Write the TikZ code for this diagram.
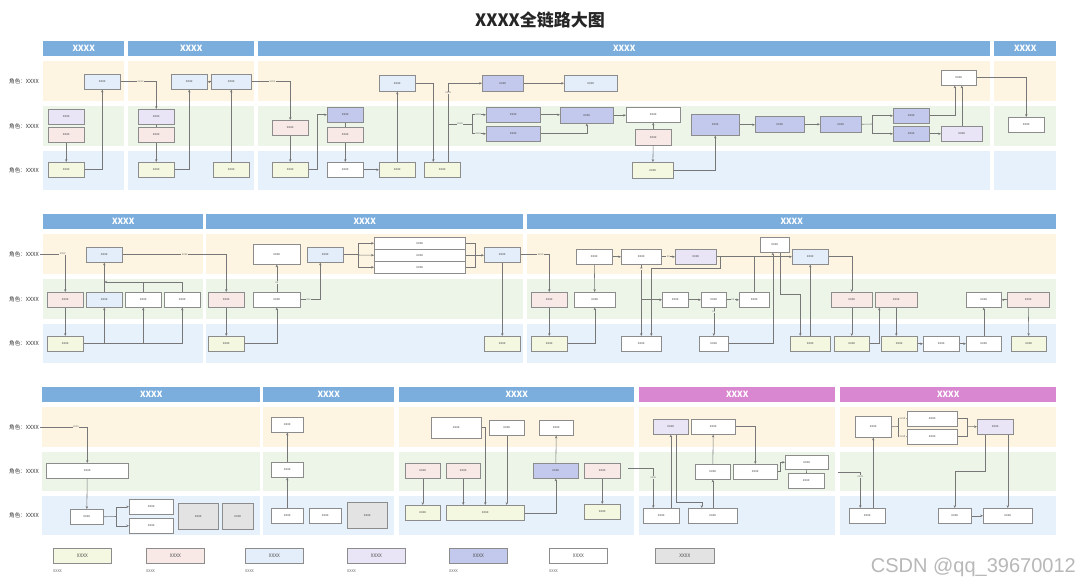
\documentclass[tikz,border=0pt]{standalone}
\usepackage{fontspec}
\setmainfont{Liberation Sans}
\newfontfamily\cjk{Noto Sans CJK SC}
\usetikzlibrary{arrows.meta}
\definecolor{hdrblue}{HTML}{7BAEDD}
\definecolor{hdrpink}{HTML}{D987D0}
\definecolor{laneY}{HTML}{FDF5E2}
\definecolor{laneG}{HTML}{EDF5E8}
\definecolor{laneB}{HTML}{E7F1FB}
\definecolor{fillY}{HTML}{F5F8E1}
\definecolor{fillP}{HTML}{F8E9E7}
\definecolor{fillB}{HTML}{E4EEFA}
\definecolor{fillL}{HTML}{EAE5F6}
\definecolor{fillI}{HTML}{C3C9EC}
\definecolor{fillG}{HTML}{E3E3E3}
\definecolor{boxline}{HTML}{8C8C8C}
\definecolor{wirec}{HTML}{777777}

\begin{document}
\begin{tikzpicture}[x=1pt, y=-1pt,
    box/.style={draw=boxline, line width=0.55pt, minimum width=36, minimum height=15,
        inner sep=0pt, anchor=north west, text=black!70, font=\cjk\fontsize{3.4}{4}\selectfont},
    yelbox/.style={box, fill=fillY},
    pinkbox/.style={box, fill=fillP},
    bluebox/.style={box, fill=fillB},
    lilacbox/.style={box, fill=fillL},
    indigobox/.style={box, fill=fillI},
    whitebox/.style={box, fill=white},
    greybox/.style={box, fill=fillG},
    hdr/.style={fill=hdrblue, text=white, minimum height=15, inner sep=0pt,
        anchor=north west, font=\cjk\bfseries\fontsize{8.5}{9}\selectfont},
    role/.style={anchor=east, inner sep=1pt, text=black!80, font=\cjk\fontsize{5.6}{6}\selectfont},
    wire/.style={draw=wirec, line width=0.55pt},
    ln/.style={wire, -{Stealth[length=2.8pt, width=2.4pt]}},
    lbl/.style={fill=laneY, inner sep=0.4pt, text=black!55, font=\cjk\fontsize{2.9}{3}\selectfont},
]
\useasboundingbox (0,0) rectangle (1080,585);
\fill[white] (0,0) rectangle (1080,585);

\node[text=black!85, font=\cjk\bfseries\fontsize{17}{20}\selectfont] (title) at (540,20) {XXXX全链路大图};

% first row
\foreach \xa/\xb in {43/124,128/254,258/990,994/1056} {
    \fill[laneY] (\xa,61) rectangle (\xb,101);
    \fill[laneG] (\xa,106) rectangle (\xb,146);
    \fill[laneB] (\xa,151) rectangle (\xb,190);
}
\node[hdr, minimum width=81] (h1a) at (43,41) {XXXX};
\node[hdr, minimum width=126] (h1b) at (128,41) {XXXX};
\node[hdr, minimum width=732] (h1c) at (258,41) {XXXX};
\node[hdr, minimum width=62] (h1d) at (994,41) {XXXX};
\foreach \y/\n in {81/a,126/b,170.5/c}
    \node[role] (r1\n) at (40,\y) {角色：XXXX};

\node[bluebox] (s1a) at (84,74) {xxxx};
\node[lilacbox] (s1b) at (48,109) {xxxx};
\node[pinkbox] (s1c) at (48,127) {xxxx};
\node[yelbox] (s1d) at (48,162) {xxxx};
\node[lilacbox] (s2a) at (138,109) {xxxx};
\node[pinkbox] (s2b) at (138,127) {xxxx};
\node[yelbox] (s2c) at (138,162) {xxxx};
\node[bluebox] (s2d) at (171,74) {xxxx};
\node[bluebox, minimum width=40] (s2e) at (211,74) {xxxx};
\node[yelbox] (s2f) at (213,162) {xxxx};
\node[pinkbox] (s3a) at (272,120) {xxxx};
\node[yelbox] (s3b) at (272,162) {xxxx};
\node[indigobox] (s3c) at (327,107) {xxxx};
\node[pinkbox] (s3d) at (327,127) {xxxx};
\node[whitebox] (s3e) at (327,162) {xxxx};
\node[yelbox] (s3f) at (379,162) {xxxx};
\node[bluebox, minimum height=16] (s3g) at (379,75) {xxxx};
\node[yelbox] (s3h) at (424,162) {xxxx};
\node[indigobox, minimum width=41, minimum height=16] (s3i) at (482,75) {xxxx};
\node[indigobox, minimum width=54] (s3j) at (486,107) {xxxx};
\node[indigobox, minimum width=54] (s3k) at (486,126) {xxxx};
\node[bluebox, minimum width=53, minimum height=16] (s3l) at (564,75) {xxxx};
\node[indigobox, minimum width=53, minimum height=16] (s3m) at (560,107) {xxxx};
\node[whitebox, minimum width=54] (s3n) at (626,107) {xxxx};
\node[pinkbox, minimum height=16] (s3o) at (635,129) {xxxx};
\node[yelbox, minimum width=41, minimum height=16] (s3p) at (632,162) {xxxx};
\node[indigobox, minimum width=48, minimum height=21] (s3q) at (691,114) {xxxx};
\node[indigobox, minimum width=49, minimum height=16] (s3r) at (755,116) {xxxx};
\node[indigobox, minimum width=41, minimum height=16] (s3s) at (820,116) {xxxx};
\node[indigobox] (s3t) at (893,108) {xxxx};
\node[indigobox] (s3u) at (893,126) {xxxx};
\node[lilacbox, minimum width=41] (s3v) at (941,126) {xxxx};
\node[whitebox, minimum width=35] (s3w) at (941,70) {xxxx};
\node[whitebox] (s4a) at (1008,117) {xxxx};

\draw[ln] (s1c) -- (s1d);
\draw[ln] (s1d.east) -| (s1a);
\draw[ln] (s1a.east) -| node[lbl, pos=0.28] {xxxx} (s2a);
\draw[wire] (s2a) -- (s2b);
\draw[ln] (s2b) -- (s2c);
\draw[ln] (s2c.east) -| (s2d);
\draw[ln] (s2e) -- (s2d);
\draw[ln] (s2f) -- (s2e);
\draw[ln] (s2e.east) -| node[lbl, pos=0.27] {xxxx} (s3a);
\draw[ln] (s3a) -- (s3b);
\draw[ln] (s3b.east) -- ++(9,0) |- (s3c.west);
\draw[wire] (s3c) -- (s3d);
\draw[ln] (s3d) -- (s3e);
\draw[ln] (s3e) -- (s3f);
\draw[ln] (s3f) -- (s3g);
\draw[ln] (s3g.east) -| ([xshift=-9pt]s3h.north);
\draw[ln] ([xshift=6pt]s3h.north) |- node[lbl, pos=0.44] {xxxx} (s3i.west);
\coordinate (j1) at (448,124);
\coordinate (j2) at (472,124);
\draw[wire] (j1) -- node[lbl, fill=laneG] {xxxx} (j2);
\draw[ln] (j2) |- node[lbl, fill=laneG, pos=0.72] {xxxx} (s3j.west);
\draw[ln] (j2) |- node[lbl, fill=laneG, pos=0.72] {xxxx} (s3k.west);
\draw[ln] (s3i) -- (s3l);
\draw[ln] (s3j.east) -- (s3j.east -| s3m.west);
\draw[ln] (s3k.east) -| (s3m);
\draw[ln] (s3m.east) -- (s3m.east -| s3n.west);
\draw[ln] (s3o) -- (s3n);
\draw[ln] (s3o) -- (s3p);
\draw[ln] (s3p.east) -| (s3q);
\draw[ln] (s3q.east) -- (s3q.east -| s3r.west);
\draw[ln] (s3r) -- (s3s);
\coordinate (j3) at (872,124);
\draw[wire] (s3s.east) -- (j3);
\draw[ln] (j3) |- (s3t.west);
\draw[ln] (j3) |- (s3u.west);
\draw[ln] (s3u) -- (s3v);
\draw[ln] (s3t.east) -| ([xshift=-4pt]s3w.south);
\draw[ln] (s3v.north) -- (s3v.north |- s3w.south);
\draw[ln] (s3w.east) -| (s4a);

% second row
\foreach \xa/\xb in {43/203,206/523,527/1056} {
    \fill[laneY] (\xa,234) rectangle (\xb,274);
    \fill[laneG] (\xa,279) rectangle (\xb,319);
    \fill[laneB] (\xa,324) rectangle (\xb,363);
}
\node[hdr, minimum width=160] (h2a) at (43,214) {XXXX};
\node[hdr, minimum width=317] (h2b) at (206,214) {XXXX};
\node[hdr, minimum width=529] (h2c) at (527,214) {XXXX};
\foreach \y/\n in {254/a,299/b,343.5/c}
    \node[role] (r2\n) at (40,\y) {角色：XXXX};

\node[bluebox] (t1a) at (86,247) {xxxx};
\node[pinkbox] (t1b) at (47,292) {xxxx};
\node[bluebox] (t1c) at (86,292) {xxxx};
\node[whitebox] (t1d) at (125,292) {xxxx};
\node[whitebox] (t1e) at (164,292) {xxxx};
\node[yelbox] (t1f) at (47,336) {xxxx};
\node[pinkbox] (t2a) at (208,292) {xxxx};
\node[yelbox] (t2b) at (208,336) {xxxx};
\node[whitebox, minimum width=47] (t2c) at (253,292) {xxxx};
\node[whitebox, minimum width=47, minimum height=20] (t2d) at (253,244) {xxxx};
\node[bluebox] (t2e) at (307,247) {xxxx};
\node[whitebox, minimum width=91, minimum height=12] (t2f) at (374,237) {xxxx};
\node[whitebox, minimum width=91, minimum height=12] (t2g) at (374,249) {xxxx};
\node[whitebox, minimum width=91, minimum height=12] (t2h) at (374,261) {xxxx};
\node[bluebox] (t2i) at (484,247) {xxxx};
\node[yelbox] (t2j) at (484,336) {xxxx};
\node[pinkbox] (t3a) at (531,292) {xxxx};
\node[yelbox] (t3b) at (531,336) {xxxx};
\node[whitebox, minimum width=41] (t3c) at (574,292) {xxxx};
\node[whitebox] (t3d) at (576,249) {xxxx};
\node[whitebox, minimum width=40] (t3e) at (621,249) {xxxx};
\node[lilacbox, minimum width=41] (t3f) at (675,249) {xxxx};
\node[bluebox] (t3g) at (792,249) {xxxx};
\node[whitebox, minimum width=29] (t3h) at (760,237) {xxxx};
\node[whitebox, minimum width=40] (t3i) at (621,336) {xxxx};
\node[whitebox, minimum width=26] (t3j) at (662,292) {xxxx};
\node[whitebox, minimum width=25] (t3k) at (701,292) {xxxx};
\node[whitebox, minimum width=30] (t3l) at (739,292) {xxxx};
\node[whitebox, minimum width=29] (t3m) at (699,336) {xxxx};
\node[yelbox, minimum width=40] (t3n) at (790,336) {xxxx};
\node[pinkbox, minimum width=41] (t3o) at (831,292) {xxxx};
\node[yelbox, minimum width=35] (t3p) at (834,336) {xxxx};
\node[pinkbox, minimum width=42] (t3q) at (875,292) {xxxx};
\node[yelbox, minimum width=36] (t3r) at (881,336) {xxxx};
\node[whitebox] (t3s) at (923,336) {xxxx};
\node[whitebox, minimum width=35] (t3t) at (966,336) {xxxx};
\node[whitebox, minimum width=35] (t3u) at (966,292) {xxxx};
\node[pinkbox, minimum width=42] (t3v) at (1007,292) {xxxx};
\node[yelbox, minimum width=35] (t3w) at (1011,336) {xxxx};

\draw[ln] (r2a.east) -| node[lbl, pos=0.45] {xxxx} (t1b);
\draw[ln] (t1b) -- (t1f);
\draw[ln] (t1f.east) -| (t1e);
\draw[ln] (t1c |- t1f.east) -- (t1c);
\draw[ln] (t1d |- t1f.east) -- (t1d);
\draw[ln] (t1e.north) |- ([yshift=10pt]t1c.north);
\draw[wire] (t1d.north) -- ++(0,-10);
\draw[ln] (t1c) -- (t1a);
\draw[ln] (t1a.east) -| node[lbl, pos=0.3] {xxxx} (t2a);
\draw[ln] (t2a) -- (t2b);
\draw[ln] (t2b.east) -| (t2c);
\draw[ln] (t2c) -- node[lbl, fill=laneG, pos=0.35] {xx} (t2d);
\draw[ln] (t2c.east) -| node[lbl, fill=laneG, pos=0.2] {xxx} ([xshift=-5pt]t2e.south);
\coordinate (k1) at (358,255);
\coordinate (k2) at (475,255);
\draw[wire] (t2e.east) -- (t2e.east -| k1);
\draw[ln] (k1) |- (t2f.west);
\draw[ln] (k1) -- (t2g.west);
\draw[ln] (k1) |- (t2h.west);
\draw[wire] (t2f.east) -| (k2);
\draw[wire] (t2h.east) -| (k2);
\draw[ln] (t2g.east) -- (t2g.east -| t2i.west);
\draw[ln] (t2i) -- (t2j);
\draw[ln] (t2i.east) -| node[lbl, pos=0.35] {xxxx} (t3a);
\draw[ln] (t3a) -- (t3b);
\draw[ln] (t3b.east) -| (t3c);
\draw[ln] (t3d) -- (t3c);
\draw[ln] (t3d) -- (t3e);
\draw[ln] (t3e) -- node[lbl] {xx} (t3f);
\draw[ln] (t3f) -- (t3g);
\draw[ln] ([xshift=4pt]t3f.east) -- ++(0,12) -| ([xshift=10pt]t3i.north);
\draw[ln] (t3e) -- node[lbl, pos=0.06] {xx} (t3i);
\draw[ln] (t3e |- t3j.west) -- (t3j.west);
\draw[ln] (t3j) -- (t3k);
\draw[ln] (t3k) -- node[lbl, fill=laneG] {xx} (t3l);
\draw[wire] (t3l.north) -- (t3l.north |- t3f.east);
\draw[ln] (t3k) -- node[lbl, fill=laneG, pos=0.15] {xx} (t3m);
\draw[ln] (t3m.east) -| ([xshift=-2pt]t3h.south);
\draw[ln] ([xshift=5.5pt]t3h.south) -- ++(0,42) -| ([xshift=-10pt]t3n.north);
\draw[ln] (t3n) -- (t3g);
\draw[ln] (t3g.east) -| (t3o);
\draw[ln] (t3o) -- (t3p);
\draw[ln] (t3p.east) -| ([xshift=-17pt]t3q.south);
\draw[ln] (t3q.south) -- (t3q.south |- t3r.north);
\draw[ln] (t3r) -- (t3s);
\draw[ln] (t3s) -- (t3t);
\draw[ln] (t3t) -- (t3u);
\draw[ln] (t3v) -- (t3u);
\draw[ln] (t3v) -- (t3w);

% third row
\foreach \xa/\xb in {42/260,263/394,399/634,639/835,840/1056} {
    \fill[laneY] (\xa,407) rectangle (\xb,447);
    \fill[laneG] (\xa,452) rectangle (\xb,491);
    \fill[laneB] (\xa,496) rectangle (\xb,535);
}
\node[hdr, minimum width=218] (h3a) at (42,387) {XXXX};
\node[hdr, minimum width=131] (h3b) at (263,387) {XXXX};
\node[hdr, minimum width=235] (h3c) at (399,387) {XXXX};
\node[hdr, fill=hdrpink, minimum width=196] (h3d) at (639,387) {XXXX};
\node[hdr, fill=hdrpink, minimum width=216] (h3e) at (840,387) {XXXX};
\foreach \y/\n in {427/a,471.5/b,515.5/c}
    \node[role] (r3\n) at (40,\y) {角色：XXXX};

\node[whitebox, minimum width=82] (u1a) at (46,463) {xxxx};
\node[whitebox, minimum width=33] (u1b) at (70,509) {xxxx};
\node[whitebox, minimum width=44] (u1c) at (129,499) {xxxx};
\node[whitebox, minimum width=44] (u1d) at (129,518) {xxxx};
\node[greybox, minimum width=40, minimum height=26] (u1e) at (178,503) {xxxx};
\node[greybox, minimum width=31, minimum height=26] (u1f) at (222,503) {xxxx};
\node[whitebox, minimum width=32] (u2a) at (271,417) {xxxx};
\node[whitebox, minimum width=32] (u2b) at (271,462) {xxxx};
\node[whitebox, minimum width=32] (u2c) at (271,508) {xxxx};
\node[whitebox, minimum width=32] (u2d) at (309,508) {xxxx};
\node[greybox, minimum width=40, minimum height=26] (u2e) at (347,502) {xxxx};
\node[whitebox, minimum width=50, minimum height=21] (u3a) at (431,417) {xxxx};
\node[whitebox, minimum width=35] (u3b) at (489,420) {xxxx};
\node[whitebox, minimum width=34] (u3c) at (539,420) {xxxx};
\node[pinkbox, minimum width=35] (u3d) at (405,463) {xxxx};
\node[pinkbox, minimum width=34] (u3e) at (446,463) {xxxx};
\node[indigobox, minimum width=45] (u3f) at (533,463) {xxxx};
\node[pinkbox, minimum width=36] (u3g) at (584,463) {xxxx};
\node[yelbox, minimum width=35] (u3h) at (405,505) {xxxx};
\node[yelbox, minimum width=78] (u3i) at (446,505) {xxxx};
\node[yelbox, minimum width=36] (u3j) at (584,504) {xxxx};
\node[whitebox] (u4a) at (643,508) {xxxx};
\node[lilacbox, minimum width=35] (u4b) at (653,419) {xxxx};
\node[whitebox, minimum width=44] (u4c) at (691,419) {xxxx};
\node[whitebox, minimum width=35] (u4d) at (695,464) {xxxx};
\node[whitebox, minimum width=44] (u4e) at (733,464) {xxxx};
\node[whitebox, minimum width=43, minimum height=14] (u4f) at (785,455) {xxxx};
\node[whitebox] (u4g) at (788,473) {xxxx};
\node[whitebox, minimum width=49] (u4h) at (688,508) {xxxx};
\node[whitebox, minimum width=36, minimum height=21] (u5a) at (855,416) {xxxx};
\node[whitebox, minimum width=50] (u5b) at (907,411) {xxxx};
\node[whitebox, minimum width=50] (u5c) at (907,429) {xxxx};
\node[lilacbox, minimum width=36] (u5d) at (977,419) {xxxx};
\node[whitebox, minimum width=36] (u5e) at (849,508) {xxxx};
\node[whitebox, minimum width=33] (u5f) at (938,508) {xxxx};
\node[whitebox, minimum width=49] (u5g) at (983,508) {xxxx};

\draw[ln] (r3a.east) -| node[lbl, pos=0.38] {xxxx} (u1a);
\draw[ln] (u1a) -- (u1b);
\coordinate (m1) at (116,516.5);
\draw[wire] (u1b.east) -- (m1);
\draw[ln] (m1) |- (u1c.west);
\draw[ln] (m1) |- (u1d.west);
\draw[ln] (u2c) -- (u2b);
\draw[ln] (u2b) -- (u2a);
\draw[ln] (u3d) -- (u3h);
\draw[ln] (u3e.south) -- (u3e.south |- u3i.north);
\draw[ln] (u3a.east) -| (u3i.north);
\draw[ln] (u3b.south) -- (u3b.south |- u3i.north);
\draw[ln] (u3i.east) -| (u3f);
\draw[ln] (u3f) -- (u3c);
\draw[ln] (u3g) -- (u3j);
\coordinate (ci4) at (628,468);
\draw[ln] (ci4) -| node[lbl, fill=laneG, pos=0.62] {xxxx} ([xshift=-8pt]u4a.north);
\draw[ln] (u4b.south |- u4a.north) -- (u4b.south);
\draw[ln] ([xshift=5pt]u4b.south) -- ++(0,68) -| ([xshift=-11pt]u4h.north);
\draw[ln] (u4h) -- (u4d);
\draw[ln] (u4d) -- (u4c);
\draw[ln] (u4c.east) -| (u4e);
\draw[ln] (u4e.east) -- ++(3,0) |- (u4f.west);
\draw[wire] (u4f) -- (u4g);
\coordinate (ci5) at (838,472);
\draw[ln] (ci5) -| node[lbl, fill=laneG, pos=0.56] {xxxx} ([xshift=-7pt]u5e.north);
\draw[ln] (u5a.south |- u5e.north) -- (u5a.south);
\coordinate (m5) at (898,426.5);
\coordinate (m6) at (967,426.5);
\draw[wire] (u5a.east) -- (m5);
\draw[ln] (m5) |- node[lbl, pos=0.75] {xxxx} (u5b.west);
\draw[ln] (m5) |- node[lbl, pos=0.75] {xxxx} (u5c.west);
\draw[wire] (u5b.east) -| (m6);
\draw[wire] (u5c.east) -| (m6);
\draw[ln] (m6) -- (u5d.west);
\draw[ln] ([xshift=-10pt]u5d.south) -- ++(0,37) -| (u5f);
\draw[ln] (u5d.south -| u5g.north) -- (u5g.north);
\draw[ln] (u5f) -- (u5g);

% legend
\foreach \s/\x [count=\i] in {yelbox/53,pinkbox/146,bluebox/245,lilacbox/347,indigobox/449,whitebox/549} {
    \node[\s, minimum width=58, font=\cjk\fontsize{4.8}{5}\selectfont] (lg\i) at (\x,548) {XXXX};
    \node[anchor=west, inner sep=0pt, text=black!60, font=\cjk\fontsize{3.8}{4}\selectfont] (lt\i) at (\x,571) {XXXX};
}
\node[greybox, minimum width=59, font=\cjk\fontsize{4.8}{5}\selectfont] (lg7) at (655,548) {XXXX};

\node[anchor=east, inner sep=0pt, text=black!28, font=\fontsize{20}{22}\selectfont] (mark) at (1076,567) {CSDN @qq\_39670012};
\end{tikzpicture}
\end{document}
